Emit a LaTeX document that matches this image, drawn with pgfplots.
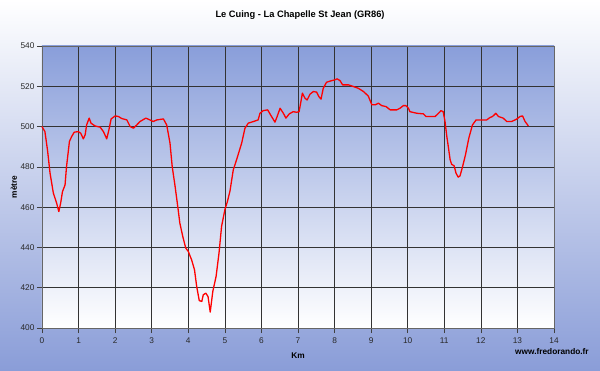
\documentclass[border=0pt]{standalone}
\usepackage{pgfplots}
\pgfplotsset{compat=1.18}
\usepackage{fontspec}
\setmainfont{Liberation Sans}
\definecolor{bgblue}{RGB}{138,157,216}
\definecolor{plotblue}{RGB}{137,158,218}
\definecolor{ticktext}{RGB}{40,40,40}
\begin{document}
\begin{tikzpicture}
\shade[top color=white, bottom color=bgblue] (0pt,0pt) rectangle (600pt,370pt);
\begin{axis}[
  at={(42pt,42pt)}, anchor=south west,
  scale only axis, width=512pt, height=282pt,
  xmin=0, xmax=14, ymin=400, ymax=540,
  xtick={0,1,...,14}, ytick={400,420,...,540},
  xtick pos=left, ytick pos=left,
  tick align=outside, major tick length=5pt,
  tick style={black!75, line width=0.6pt},
  grid=major, major grid style={black!80, line width=0.7pt},
  axis line style={black!60, line width=0.8pt},
  axis background/.style={shade, top color=plotblue, bottom color=white},
  tick label style={font=\fontsize{8.3}{9}\selectfont, text=ticktext},
  /pgf/number format/assume math mode=true,
  /pgf/number format/1000 sep={},
  xticklabel style={yshift=-1pt},
  yticklabel style={xshift=1pt},
  clip=false,
]
\addplot[red, line width=1.3pt, line join=round] coordinates {
(0,500) (0.08,497.5) (0.15,488.4) (0.22,476.9) (0.31,467) (0.40,462) (0.46,457.8)
(0.51,462) (0.56,467.7) (0.63,471) (0.67,480) (0.75,492.6) (0.81,495) (0.88,497.2)
(0.99,497.5) (1.06,496.7) (1.13,493.9) (1.18,495.9) (1.22,500.8) (1.29,504.2)
(1.34,501.7) (1.45,500.3) (1.59,499.7) (1.68,497.5) (1.77,493.9) (1.83,498.4)
(1.89,503.8) (2.00,505.3) (2.09,505) (2.18,504) (2.32,503.3) (2.41,500) (2.50,499.2)
(2.59,500.8) (2.68,502.5) (2.84,504.2) (2.95,503.3) (3.04,502.5) (3.14,503.3)
(3.32,503.8) (3.41,500.8) (3.50,491.8) (3.56,480.2) (3.64,470.2) (3.70,462)
(3.77,452) (3.85,445.4) (3.93,439.7) (4.00,438) (4.09,433.9) (4.17,428.9)
(4.23,420.6) (4.30,413.6) (4.37,413.2) (4.41,416.5) (4.48,417.3) (4.54,415.6)
(4.60,407.9) (4.67,418.1) (4.76,425.6) (4.84,437.2) (4.91,450.4) (5.00,458.7)
(5.07,462.8) (5.14,468) (5.23,478.5) (5.32,483.5) (5.46,491.8) (5.55,499.2)
(5.64,501.7) (5.78,502.5) (5.91,503.3) (5.96,506.6) (6.05,507.9) (6.17,508.3)
(6.25,505.8) (6.37,502.2) (6.43,505) (6.51,509.1) (6.60,506.6) (6.67,504.2)
(6.76,506.3) (6.87,507.4) (6.96,507.1) (7.03,507.4) (7.08,512.4) (7.12,516.6)
(7.19,514.1) (7.25,513.2) (7.33,516.1) (7.42,517.4) (7.51,517.1) (7.57,514.9)
(7.63,513.6) (7.69,519) (7.78,522) (7.92,522.8) (8.01,523.2) (8.07,523.7)
(8.15,522.8) (8.22,520.7) (8.38,520.7) (8.51,519.9) (8.65,519) (8.79,517.4)
(8.92,515.2) (9.02,510.8) (9.11,510.8) (9.20,511.6) (9.29,510.4) (9.41,509.9)
(9.52,508.3) (9.70,508.3) (9.79,509.1) (9.88,510.4) (9.95,510.4) (10.02,509.1)
(10.06,507.4) (10.25,506.6) (10.43,506.3) (10.50,505) (10.75,505) (10.84,506.6)
(10.91,507.9) (10.97,507.4) (11.02,502.5) (11.07,495) (11.11,490) (11.16,483.5)
(11.20,481.3) (11.27,480.5) (11.32,476.9) (11.38,474.9) (11.43,475.5) (11.50,480.1)
(11.58,486) (11.67,494.2) (11.77,500.8) (11.87,503.3) (11.98,503.3) (12.16,503.3)
(12.25,504.5) (12.32,505) (12.41,506.6) (12.48,505) (12.61,504.2) (12.71,502.5)
(12.84,502.5) (12.98,503.7) (13.07,505) (13.14,505.3) (13.21,502.5) (13.30,500.3)
};
\node[font=\bfseries\fontsize{9.3}{11}\selectfont] at (axis description cs:0.504,1.11) {Le Cuing - La Chapelle St Jean (GR86)};
\node[font=\bfseries\fontsize{8.3}{9}\selectfont] at (axis description cs:0.5,-0.099) {Km};
\node[font=\bfseries\fontsize{8.3}{9}\selectfont, rotate=90] at (axis description cs:-0.0547,0.5) {mètre};
\node[font=\bfseries\fontsize{8.3}{9}\selectfont] at (axis description cs:0.996,-0.085) {www.fredorando.fr};
\end{axis}
\end{tikzpicture}
\end{document}
